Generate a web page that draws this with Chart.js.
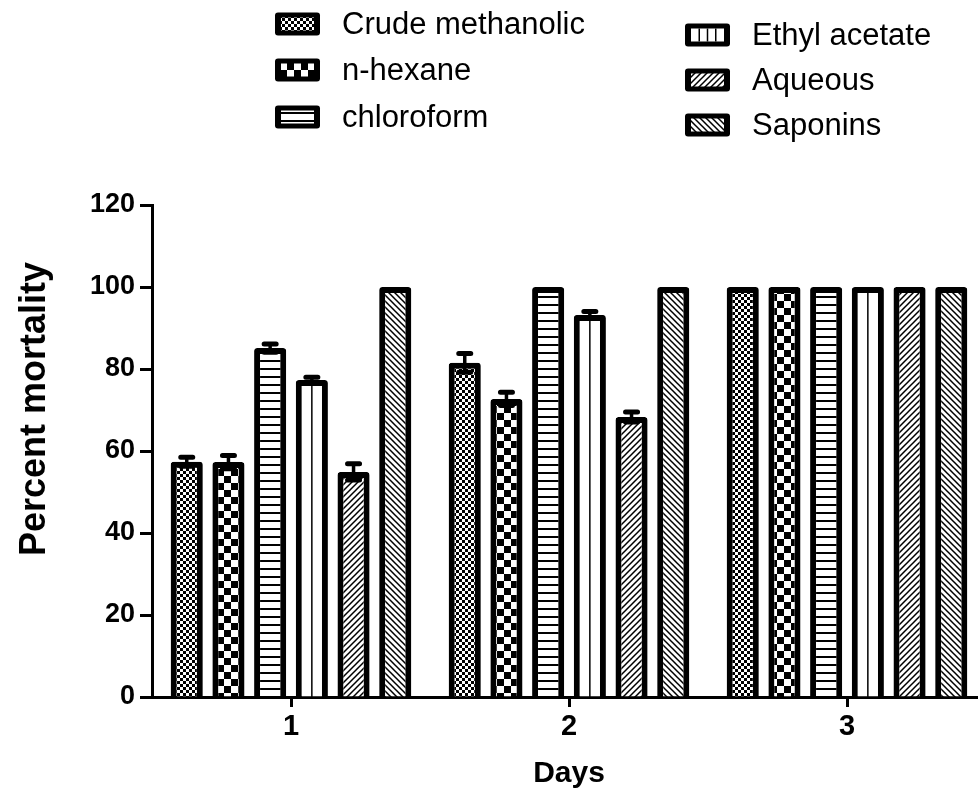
<!DOCTYPE html>
<html>
<head>
<meta charset="utf-8">
<title>Percent mortality</title>
<script src="https://cdn.jsdelivr.net/npm/chart.js@4.4.1/dist/chart.umd.min.js"></script>
<style>
  html, body { margin: 0; padding: 0; background: #fff; overflow: hidden; }
  #wrap { width: 986px; height: 791px; }
</style>
</head>
<body>
<div id="wrap"><canvas id="bars" width="986" height="791"></canvas></div>
<script>
// data
const days = ['1', '2', '3'];
const extracts = ['Crude methanolic', 'n-hexane', 'chloroform', 'Ethyl acetate', 'Aqueous', 'Saponins'];
const yTicks = [0, 20, 40, 60, 80, 100, 120];

// mean percent mortality, one value per day
const crudeMethanolic = [57.4, 81.5, 100];
const nHexane = [57.3, 72.7, 100];
const chloroform = [85.1, 100, 100];
const ethylAcetate = [77.3, 93.2, 100];
const aqueous = [54.9, 68.3, 100];
const saponins = [100, 100, 100];

// error (SEM) per day
const crudeMethanolicErr = [1.1, 2.3, 0];
const nHexaneErr = [1.6, 1.6, 0];
const chloroformErr = [1.0, 0, 0];
const ethylAcetateErr = [0.7, 0.8, 0];
const aqueousErr = [2.0, 1.2, 0];
const saponinsErr = [0, 0, 0];

const seriesValues = [crudeMethanolic, nHexane, chloroform, ethylAcetate, aqueous, saponins];
const seriesErrors = [crudeMethanolicErr, nHexaneErr, chloroformErr, ethylAcetateErr, aqueousErr, saponinsErr];

const FONT = "'Liberation Sans', Arial, Helvetica, sans-serif";
Chart.defaults.font.family = FONT;
Chart.defaults.color = '#000';

/* fill patterns */
function tile(w, h) {
    const c = document.createElement('canvas');
    c.width = w;
    c.height = h;
    const g = c.getContext('2d');
    g.fillStyle = '#fff';
    g.fillRect(0, 0, w, h);
    return [c, g];
}

function checker(cell) {
    const [c, g] = tile(cell * 2, cell * 2);
    g.fillStyle = '#000';
    g.fillRect(0, 0, cell, cell);
    g.fillRect(cell, cell, cell, cell);
    return g.createPattern(c, 'repeat');
}

function hLines(period, thick) {
    const [c, g] = tile(period, period);
    g.fillStyle = '#000';
    g.fillRect(0, 0, period, thick);
    return g.createPattern(c, 'repeat');
}

function diagonal(p, dir) {
    const [c, g] = tile(p, p);
    g.strokeStyle = '#000';
    g.lineWidth = 1.5;
    g.beginPath();
    if (dir > 0) { // "/"
        g.moveTo(0, p); g.lineTo(p, 0);
        g.moveTo(-1, 1); g.lineTo(1, -1);
        g.moveTo(p - 1, p + 1); g.lineTo(p + 1, p - 1);
    } else { // "\"
        g.moveTo(0, 0); g.lineTo(p, p);
        g.moveTo(-1, p - 1); g.lineTo(1, p + 1);
        g.moveTo(p - 1, -1); g.lineTo(p + 1, 1);
    }
    g.stroke();
    return g.createPattern(c, 'repeat');
}

const fills = [checker(3), checker(7), hLines(8, 2), '#fff', diagonal(6, 1), diagonal(6, -1)];

// error bars + the single centre line of the ethyl acetate bars
const errorBars = {
    id: 'errorBars',
    afterDatasetsDraw(chart) {
        const ctx = chart.ctx;
        const yScale = chart.scales.y;
        ctx.save();
        ctx.strokeStyle = '#000';
        chart.data.datasets.forEach((ds, i) => {
            const meta = chart.getDatasetMeta(i);
            meta.data.forEach((bar, j) => {
                if (ds.midLine) {
                    ctx.lineWidth = 1.5;
                    ctx.beginPath();
                    ctx.moveTo(bar.x, bar.y + 5);
                    ctx.lineTo(bar.x, bar.base);
                    ctx.stroke();
                }
                const e = ds.errors[j];
                if (!e) return;
                const v = ds.data[j];
                const top = yScale.getPixelForValue(v + e);
                const bot = yScale.getPixelForValue(v - e);
                ctx.lineCap = 'butt';
                ctx.lineWidth = 3.5;
                ctx.beginPath();
                ctx.moveTo(bar.x, bot);
                ctx.lineTo(bar.x, top);
                ctx.stroke();
                ctx.lineCap = 'round';
                ctx.lineWidth = 5;
                ctx.beginPath();
                ctx.moveTo(bar.x - 6, top); ctx.lineTo(bar.x + 6, top);
                ctx.moveTo(bar.x - 6, bot); ctx.lineTo(bar.x + 6, bot);
                ctx.stroke();
            });
        });
        ctx.restore();
    }
};

// legend in two columns above the plot, and the y title
const legendSpots = [[275, 24], [275, 70], [275, 117], [685, 35], [685, 80], [685, 125]];

const sideText = {
    id: 'sideText',
    afterDraw(chart) {
        const ctx = chart.ctx;
        ctx.save();
        chart.data.datasets.forEach((ds, i) => {
            const [x, cy] = legendSpots[i];
            ctx.fillStyle = '#000';
            ctx.beginPath();
            ctx.roundRect(x, cy - 11.5, 45, 23, 3);
            ctx.fill();
            ctx.fillStyle = ds.backgroundColor;
            ctx.fillRect(x + 6, cy - 6.5, 33, 13);
            if (ds.midLine) {
                ctx.fillStyle = '#000';
                for (let k = 1; k < 4; k++) ctx.fillRect(x + 6 + k * 8.25 - 0.75, cy - 6.5, 1.5, 13);
            }
            ctx.fillStyle = '#000';
            ctx.font = '31px ' + FONT;
            ctx.textBaseline = 'middle';
            ctx.textAlign = 'left';
            ctx.fillText(ds.label, x + 67, cy + 1);
        });

        ctx.translate(35, 409);
        ctx.rotate(-Math.PI / 2);
        ctx.font = 'bold 36px ' + FONT;
        ctx.textAlign = 'center';
        ctx.textBaseline = 'middle';
        ctx.fillText('Percent mortality', 0, 0);
        ctx.restore();
    }
};

const ctx = document.getElementById('bars').getContext('2d');
const mortalityChart = new Chart(ctx, {
    type: 'bar',
    data: {
        labels: days,
        datasets: extracts.map((name, i) => ({
            label: name,
            data: seriesValues[i],
            errors: seriesErrors[i],
            backgroundColor: fills[i],
            borderColor: '#000',
            borderWidth: 6,
            borderRadius: 3,
            midLine: i === 3,
            categoryPercentage: 0.9,
            barPercentage: 0.77
        }))
    },
    options: {
        responsive: false,
        animation: false,
        layout: { padding: { top: 205, left: 0, right: 0, bottom: 0 } },
        plugins: {
            legend: { display: false },
            tooltip: { enabled: false }
        },
        scales: {
            x: {
                offset: true,
                grid: { display: true, drawOnChartArea: false, drawTicks: true, offset: false, tickLength: 10, tickWidth: 3, tickColor: '#000' },
                border: { display: true, color: '#000', width: 3 },
                ticks: { color: '#000', padding: 3, font: { size: 29, weight: 'bold' } },
                title: {
                    display: true,
                    text: 'Days',
                    color: '#000',
                    font: { size: 30, weight: 'bold', lineHeight: 1 },
                    padding: { top: 0, bottom: 2 }
                },
                afterFit(scale) { scale.height = 94; }
            },
            y: {
                min: yTicks[0],
                max: yTicks[yTicks.length - 1],
                grid: { display: true, drawOnChartArea: false, drawTicks: true, tickLength: 12, tickWidth: 3, tickColor: '#000' },
                border: { display: true, color: '#000', width: 3 },
                ticks: { stepSize: yTicks[1] - yTicks[0], color: '#000', padding: 5, font: { size: 27, weight: 'bold' } },
                afterFit(scale) { scale.width = 152; }
            }
        }
    },
    plugins: [errorBars, sideText]
});
</script>
</body>
</html>
